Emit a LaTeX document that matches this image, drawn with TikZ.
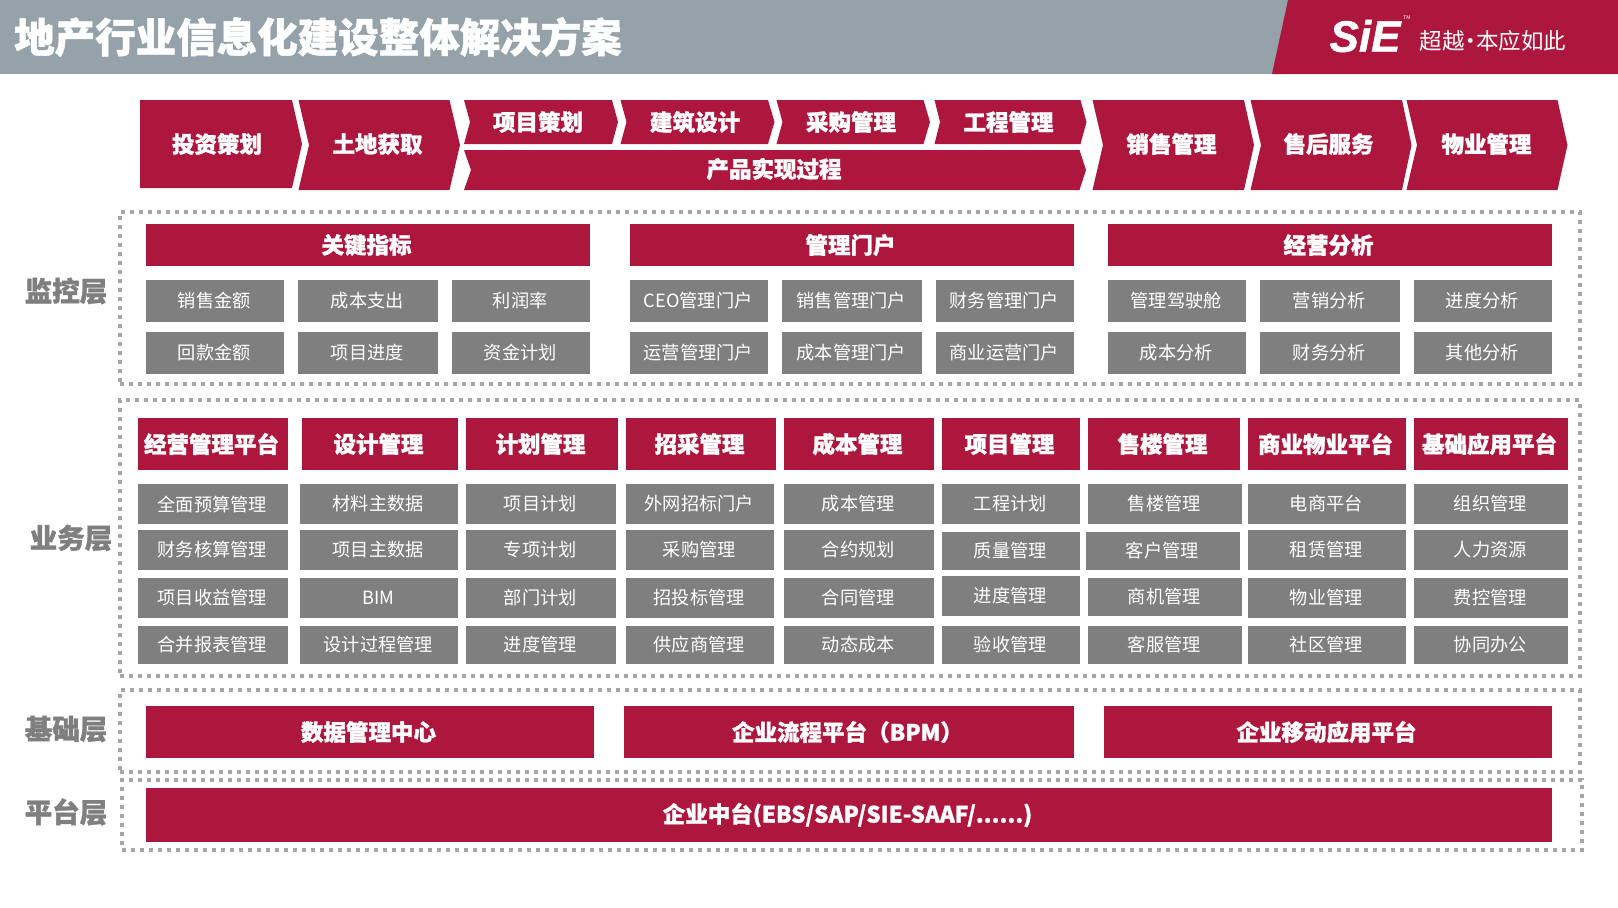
\documentclass[tikz,border=0pt]{standalone}
\usepackage{fontspec}
\setmainfont[BoldFeatures={FakeBold=1.2}]{Noto Sans CJK SC}
\newfontfamily\logofont[BoldItalicFeatures={FakeBold=1}]{Liberation Sans}
\definecolor{sieRed}{HTML}{AE173D}
\definecolor{sieSlate}{HTML}{96A2AA}
\definecolor{sieGrey}{HTML}{7F7F7F}
\definecolor{sieDash}{HTML}{A6A6A6}
\tikzset{
  redbox/.style={fill=sieRed, text=white, inner sep=0pt, outer sep=0pt, execute at begin node={\kern-3pt}, font=\fontsize{22.5}{26}\selectfont\bfseries},
  greybox/.style={fill=sieGrey, text=white, inner sep=0pt, outer sep=0pt, execute at begin node={\kern-1.5pt}, font=\fontsize{18.2}{22}\selectfont},
  steptext/.style={text=white, inner sep=0pt, font=\fontsize{22.5}{26}\selectfont\bfseries},
  layerbox/.style={draw=sieDash, line width=3.5pt, dash pattern=on 4pt off 5pt, inner sep=0pt, outer sep=0pt},
  layername/.style={text=sieGrey, inner sep=0pt, font=\fontsize{27.5}{32}\selectfont\bfseries},
  size/.style 2 args={minimum width=#1pt, minimum height=#2pt}
}
\begin{document}
\begin{tikzpicture}[x=1pt, y=-1pt]
    \useasboundingbox (0,0) rectangle (1618,908);

    % Title bar
    \fill[sieSlate] (0,0) rectangle (1288,74);
    \fill[sieRed] (1288,0) -- (1618,0) -- (1618,74) -- (1272,74) -- cycle;
    \node[text=white, inner sep=0pt, font=\fontsize{40.5}{46}\selectfont\bfseries] (title) at (318,37) {地产行业信息化建设整体解决方案};
    \node[text=white, inner sep=0pt, font=\logofont\fontsize{44}{50}\selectfont\bfseries\itshape] (logo) at (1365,36) {SiE};
    \node[text=white, inner sep=0pt, font=\fontsize{5}{6}\selectfont] (logomark) at (1407,18) {TM};
    \node[text=white, inner sep=0pt, font=\fontsize{22.5}{26}\selectfont] (slogan) at (1493,41) {超越\kern-5.5pt·\kern-5.5pt本应如此};

    % Value chain
    \fill[sieRed] (140,100) -- (292,100) -- (302,144) -- (292,188) -- (140,188) -- cycle;
    \fill[sieRed] (298.5,100) -- (449.5,100) -- (460,145) -- (449.5,190) -- (298.5,190) -- (309,145) -- cycle;
    \fill[sieRed] (464,100) -- (612,100) -- (618,122) -- (612,144) -- (464,144) -- (470,122) -- cycle;
    \fill[sieRed] (620.5,100) -- (768,100) -- (774.5,122) -- (768,144) -- (620.5,144) -- (626.5,122) -- cycle;
    \fill[sieRed] (776.5,100) -- (923.5,100) -- (930,122) -- (923.5,144) -- (776.5,144) -- (782.5,122) -- cycle;
    \fill[sieRed] (934.5,100) -- (1080.5,100) -- (1086.5,122) -- (1080.5,144) -- (934.5,144) -- (940,122) -- cycle;
    \fill[sieRed] (464,150) -- (1079.5,150) -- (1086,170) -- (1079.5,190) -- (464,190) -- (471,170) -- cycle;
    \fill[sieRed] (1092.5,100) -- (1244,100) -- (1254,145) -- (1244,190) -- (1092.5,190) -- (1103,145) -- cycle;
    \fill[sieRed] (1250.5,100) -- (1402,100) -- (1411.5,145) -- (1402,190) -- (1250.5,190) -- (1261,145) -- cycle;
    \fill[sieRed] (1406.5,100) -- (1557.5,100) -- (1567.5,145) -- (1557.5,190) -- (1406.5,190) -- (1417,145) -- cycle;
    \node[steptext] (invest) at (217,144) {投资策划};
    \node[steptext] (land) at (377.5,144) {土地获取};
    \node[steptext] (project) at (538,122) {项目策划};
    \node[steptext] (design) at (695,122) {建筑设计};
    \node[steptext] (purchase) at (851,122) {采购管理};
    \node[steptext] (works) at (1008.5,122) {工程管理};
    \node[steptext] (product) at (774,169) {产品实现过程};
    \node[steptext] (sales) at (1171.5,144) {销售管理};
    \node[steptext] (aftersales) at (1328.5,144) {售后服务};
    \node[steptext] (property) at (1486.5,144) {物业管理};

    % Dotted layer frames
    \node[layerbox, size={1460}{172}] (monitor) at (850,298) {};
    \node[layerbox, size={1460}{276}] (business) at (850,538) {};
    \node[layerbox, size={1460}{82}] (base) at (850,731) {};
    \node[layerbox, size={1460}{70}] (platform) at (852,815) {};
    \node[layername] (monitorname) at (66,291) {监控层};
    \node[layername] (businessname) at (71,538) {业务层};
    \node[layername] (basename) at (66,729) {基础层};
    \node[layername] (platformname) at (66,812) {平台层};

    % Monitoring layer
    \node[redbox, size={444}{42}] (kpi) at (368,245) {关键指标};
    \node[greybox, size={138}{42}] (kpiA) at (215,301) {销售金额};
    \node[greybox, size={140}{42}] (kpiB) at (368,301) {成本支出};
    \node[greybox, size={138}{42}] (kpiC) at (521,301) {利润率};
    \node[greybox, size={138}{42}] (kpiD) at (215,353) {回款金额};
    \node[greybox, size={140}{42}] (kpiE) at (368,353) {项目进度};
    \node[greybox, size={138}{42}] (kpiF) at (521,353) {资金计划};

    \node[redbox, size={444}{42}] (portal) at (852,245) {管理门户};
    \node[greybox, size={138}{42}] (portalA) at (699,301) {CEO管理门户};
    \node[greybox, size={140}{42}] (portalB) at (852,301) {销售管理门户};
    \node[greybox, size={138}{42}] (portalC) at (1005,301) {财务管理门户};
    \node[greybox, size={138}{42}] (portalD) at (699,353) {运营管理门户};
    \node[greybox, size={140}{42}] (portalE) at (852,353) {成本管理门户};
    \node[greybox, size={138}{42}] (portalF) at (1005,353) {商业运营门户};

    \node[redbox, size={444}{42}] (analysis) at (1330,245) {经营分析};
    \node[greybox, size={138}{42}] (analysisA) at (1177,301) {管理驾驶舱};
    \node[greybox, size={140}{42}] (analysisB) at (1330,301) {营销分析};
    \node[greybox, size={138}{42}] (analysisC) at (1483,301) {进度分析};
    \node[greybox, size={138}{42}] (analysisD) at (1177,353) {成本分析};
    \node[greybox, size={140}{42}] (analysisE) at (1330,353) {财务分析};
    \node[greybox, size={138}{42}] (analysisF) at (1483,353) {其他分析};

    % Business layer headers
    \node[redbox, size={150}{52}] (operate) at (213,444) {经营管理平台};
    \node[redbox, size={156}{52}] (designmgmt) at (380,444) {设计管理};
    \node[redbox, size={152}{52}] (planmgmt) at (542,444) {计划管理};
    \node[redbox, size={150}{52}] (tender) at (701,444) {招采管理};
    \node[redbox, size={150}{52}] (cost) at (859,444) {成本管理};
    \node[redbox, size={138}{52}] (projectmgmt) at (1011,444) {项目管理};
    \node[redbox, size={152}{52}] (housing) at (1164,444) {售楼管理};
    \node[redbox, size={158}{52}] (commerce) at (1327,444) {商业物业平台};
    \node[redbox, size={154}{52}] (basics) at (1491,444) {基础应用平台};

    % Business layer items
    \node[greybox, size={150}{40}] (operateA) at (213,504) {全面预算管理};
    \node[greybox, size={150}{40}] (operateB) at (213,550) {财务核算管理};
    \node[greybox, size={150}{40}] (operateC) at (213,598) {项目收益管理};
    \node[greybox, size={150}{38}] (operateD) at (213,645) {合并报表管理};

    \node[greybox, size={158}{40}] (designA) at (379,504) {材料主数据};
    \node[greybox, size={158}{40}] (designB) at (379,550) {项目主数据};
    \node[greybox, size={158}{40}] (designC) at (379,598) {BIM};
    \node[greybox, size={158}{38}] (designD) at (379,645) {设计过程管理};

    \node[greybox, size={150}{40}] (planA) at (541,504) {项目计划};
    \node[greybox, size={150}{40}] (planB) at (541,550) {专项计划};
    \node[greybox, size={150}{40}] (planC) at (541,598) {部门计划};
    \node[greybox, size={150}{38}] (planD) at (541,645) {进度管理};

    \node[greybox, size={148}{40}] (tenderA) at (700,504) {外网招标门户};
    \node[greybox, size={148}{40}] (tenderB) at (700,550) {采购管理};
    \node[greybox, size={148}{40}] (tenderC) at (700,598) {招投标管理};
    \node[greybox, size={148}{38}] (tenderD) at (700,645) {供应商管理};

    \node[greybox, size={150}{40}] (costA) at (859,504) {成本管理};
    \node[greybox, size={150}{40}] (costB) at (859,550) {合约规划};
    \node[greybox, size={150}{40}] (costC) at (859,598) {合同管理};
    \node[greybox, size={150}{38}] (costD) at (859,645) {动态成本};

    \node[greybox, size={138}{40}] (projectA) at (1011,504) {工程计划};
    \node[greybox, size={138}{38}] (projectB) at (1011,551) {质量管理};
    \node[greybox, size={138}{40}] (projectC) at (1011,596) {进度管理};
    \node[greybox, size={138}{38}] (projectD) at (1011,645) {验收管理};

    \node[greybox, size={154}{40}] (housingA) at (1165,504) {售楼管理};
    \node[greybox, size={154}{38}] (housingB) at (1163,551) {客户管理};
    \node[greybox, size={154}{38}] (housingC) at (1165,597) {商机管理};
    \node[greybox, size={154}{38}] (housingD) at (1165,645) {客服管理};

    \node[greybox, size={158}{40}] (commerceA) at (1327,504) {电商平台};
    \node[greybox, size={158}{40}] (commerceB) at (1327,550) {租赁管理};
    \node[greybox, size={158}{40}] (commerceC) at (1327,598) {物业管理};
    \node[greybox, size={158}{38}] (commerceD) at (1327,645) {社区管理};

    \node[greybox, size={154}{40}] (basicsA) at (1491,504) {组织管理};
    \node[greybox, size={154}{40}] (basicsB) at (1491,550) {人力资源};
    \node[greybox, size={154}{40}] (basicsC) at (1491,598) {费控管理};
    \node[greybox, size={154}{38}] (basicsD) at (1491,645) {协同办公};

    % Base and platform layers
    \node[redbox, size={448}{52}] (data) at (370,732) {数据管理中心};
    \node[redbox, size={450}{52}] (bpm) at (849,732) {企业流程平台（BPM）};
    \node[redbox, size={448}{52}] (mobile) at (1328,732) {企业移动应用平台};
    \node[redbox, size={1406}{54}] (middle) at (849,815) {企业中台(EBS/SAP/SIE-SAAF/......)};
\end{tikzpicture}
\end{document}
